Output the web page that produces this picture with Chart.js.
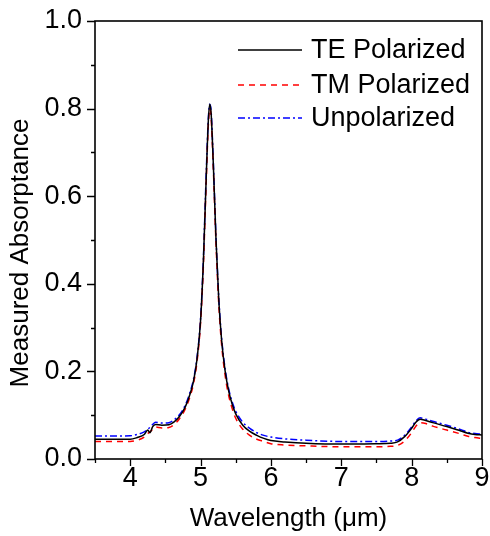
<!DOCTYPE html>
<html><head><meta charset="utf-8">
<script src="https://cdn.jsdelivr.net/npm/chart.js@4/dist/chart.umd.min.js"></script>
<style>html,body{margin:0;padding:0;background:#fff}#wrap{width:490px;height:536px}</style>
</head><body><div id="wrap"><canvas id="c" width="490" height="536"></canvas></div>
<script>
const wavelength = [3.5,3.8,4.0,4.1,4.2,4.25,4.28,4.32,4.36,4.45,4.55,4.62,4.7,4.78,4.85,4.9,4.95,5.0,5.04,5.08,5.11,5.13,5.15,5.18,5.22,5.26,5.3,5.35,5.4,5.45,5.5,5.6,5.7,5.8,5.9,6.0,6.2,6.5,7.0,7.5,7.7,7.8,7.9,8.0,8.06,8.12,8.2,8.3,8.5,8.7,8.8,8.9,9.0];
const tePolarized = [0.045,0.045,0.045,0.049,0.056,0.066,0.060,0.074,0.079,0.077,0.078,0.084,0.097,0.118,0.148,0.178,0.228,0.315,0.45,0.64,0.77,0.81,0.79,0.68,0.50,0.36,0.27,0.20,0.155,0.125,0.103,0.077,0.063,0.054,0.047,0.042,0.039,0.036,0.034,0.035,0.036,0.039,0.051,0.070,0.084,0.091,0.088,0.083,0.074,0.064,0.059,0.056,0.055];
const tmPolarized = [0.040,0.040,0.040,0.043,0.050,0.058,0.062,0.068,0.073,0.071,0.072,0.078,0.092,0.113,0.142,0.172,0.222,0.31,0.44,0.63,0.76,0.80,0.78,0.67,0.49,0.35,0.26,0.19,0.145,0.115,0.093,0.068,0.054,0.045,0.040,0.035,0.032,0.030,0.028,0.028,0.029,0.031,0.041,0.060,0.075,0.083,0.081,0.075,0.066,0.057,0.052,0.049,0.047];
const unpolarized = [0.0525,0.0525,0.053,0.056,0.062,0.068,0.072,0.079,0.084,0.082,0.083,0.089,0.101,0.122,0.152,0.182,0.232,0.32,0.455,0.65,0.775,0.81,0.795,0.685,0.505,0.365,0.275,0.205,0.16,0.13,0.109,0.084,0.070,0.06,0.054,0.050,0.046,0.043,0.040,0.040,0.041,0.043,0.054,0.073,0.087,0.094,0.091,0.086,0.077,0.067,0.061,0.058,0.057];
const seriesLabels = ['TE Polarized','TM Polarized','Unpolarized'];
const xTickValues = [4,5,6,7,8,9];
const yTickValues = [0.0,0.2,0.4,0.6,0.8,1.0];
const xTitle = 'Wavelength (\u03bcm)';
const yTitle = 'Measured Absorptance';

const FONT = 'Liberation Sans, Arial, sans-serif';
const toXY = arr => wavelength.map((w,i)=>({x:w,y:arr[i]}));

const frameAndTicks = {
  id:'frameAndTicks',
  afterDraw(chart){
    const ctx = chart.ctx, a = chart.chartArea, xs = chart.scales.x, ys = chart.scales.y;
    ctx.save();
    ctx.strokeStyle = '#000'; ctx.lineWidth = 1.6;
    ctx.strokeRect(a.left, a.top, a.right-a.left, a.bottom-a.top);
    ctx.lineWidth = 1.3;
    ctx.beginPath();
    for (let v = 3.5; v <= 9.001; v += 0.5) {
      const px = Math.round(xs.getPixelForValue(v)) + 0.5;
      const major = Math.abs(v - Math.round(v)) < 1e-6;
      ctx.moveTo(px, a.bottom); ctx.lineTo(px, a.bottom + (major ? 7 : 4));
    }
    for (let v = 0; v <= 1.0001; v += 0.1) {
      const py = Math.round(ys.getPixelForValue(v)) + 0.5;
      const major = Math.round(v*10) % 2 === 0;
      ctx.moveTo(a.left, py); ctx.lineTo(a.left - (major ? 8 : 4), py);
    }
    ctx.stroke();
    // y axis title
    ctx.save();
    ctx.font = '26px ' + FONT; ctx.fillStyle = '#000';
    ctx.textAlign = 'center'; ctx.textBaseline = 'middle';
    ctx.translate(21, 253); ctx.rotate(-Math.PI/2);
    ctx.fillText(yTitle, 0, 0);
    ctx.restore();
    // legend
    const ds = chart.data.datasets;
    const x0 = a.left + 143, x1 = a.left + 207, rows = [50, 85, 118];
    ctx.font = '27px ' + FONT; ctx.textBaseline = 'middle'; ctx.fillStyle = '#000';
    ds.forEach((d,i)=>{
      ctx.beginPath(); ctx.setLineDash(d.borderDash || []);
      ctx.strokeStyle = d.borderColor; ctx.lineWidth = d.borderWidth;
      ctx.moveTo(x0, rows[i]); ctx.lineTo(x1, rows[i]); ctx.stroke();
      ctx.setLineDash([]);
      ctx.fillText(d.label, x1 + 9, rows[i] + 1);
    });
    ctx.restore();
  }
};

new Chart(document.getElementById('c'), {
  type:'line',
  data:{datasets:[
    {label:seriesLabels[0], data:toXY(tePolarized), borderColor:'#000000', borderWidth:1.5, borderDash:[], pointRadius:0, cubicInterpolationMode:'monotone'},
    {label:seriesLabels[1], data:toXY(tmPolarized), borderColor:'#ff0000', borderWidth:1.5, borderDash:[6,5], pointRadius:0, cubicInterpolationMode:'monotone'},
    {label:seriesLabels[2], data:toXY(unpolarized), borderColor:'#0000ff', borderWidth:1.5, borderDash:[7,3,2,3], pointRadius:0, cubicInterpolationMode:'monotone'}
  ]},
  options:{
    responsive:false, animation:false,
    layout:{padding:{top:21,right:8,bottom:0,left:0}},
    plugins:{legend:{display:false}, tooltip:{enabled:false}},
    scales:{
      x:{type:'linear', min:3.5, max:9,
        afterBuildTicks(s){ s.ticks = xTickValues.map(v=>({value:v})); },
        afterFit(s){ s.height = 77; s.paddingLeft = 0; s.paddingRight = 0; },
        ticks:{font:{family:FONT,size:27}, color:'#000', padding:3, maxRotation:0, callback:v=>String(v)},
        grid:{display:true, drawOnChartArea:false, drawTicks:false},
        border:{display:false},
        title:{display:true, text:xTitle, font:{family:FONT,size:26}, color:'#000', padding:{top:0,bottom:2}}
      },
      y:{type:'linear', min:0, max:1,
        afterBuildTicks(s){ s.ticks = yTickValues.map(v=>({value:v})); },
        afterFit(s){ s.width = 95; s.paddingTop = 0; s.paddingBottom = 0; },
        ticks:{font:{family:FONT,size:27}, color:'#000', padding:13, callback:v=>Number(v).toFixed(1)},
        grid:{display:true, drawOnChartArea:false, drawTicks:false},
        border:{display:false},
        title:{display:false}
      }
    }
  },
  plugins:[frameAndTicks]
});
</script></body></html>
